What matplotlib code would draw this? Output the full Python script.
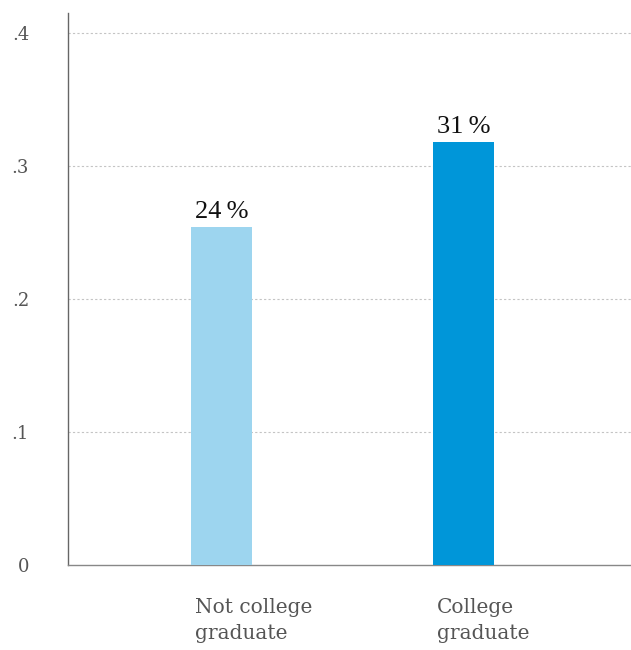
import matplotlib
matplotlib.use("Agg")
import matplotlib.pyplot as plt
from matplotlib.ticker import FixedLocator

# Data
categories = ["Not college\ngraduate", "College\ngraduate"]
values = [0.254, 0.318]
value_labels = ["24\u2009%", "31\u2009%"]
y_ticks = [0, 0.1, 0.2, 0.3, 0.4]
y_tick_labels = ["0", ".1", ".2", ".3", ".4"]
colors = ["#9dd5ef", "#0096d9"]

W, H = 631, 650
fig = plt.figure(figsize=(W / 100, H / 100), dpi=100)
ax = fig.add_axes([68 / W, 85 / H, (W - 68) / W, (565 - 13) / H])

x = list(range(len(categories)))
bar_w = 0.252
ax.bar(x, values, width=bar_w, color=colors, zorder=3)

ax.set_xlim(-0.634, 1.692)
ax.set_ylim(0, 0.415)

# grid
ax.yaxis.set_major_locator(FixedLocator(y_ticks))
ax.set_yticklabels(y_tick_labels, family="DejaVu Serif", fontsize=13, color="#555555")
ax.tick_params(axis="y", length=0, pad=28)
for t in y_ticks[1:]:
    ax.axhline(t, color="#c4c4c4", lw=0.8, ls=(0, (2, 2)), zorder=1)

ax.set_xticks([])
for s in ["top", "right"]:
    ax.spines[s].set_visible(False)
ax.spines["left"].set_color("#666666")
ax.spines["bottom"].set_color("#888888")
ax.spines["left"].set_linewidth(1)
ax.spines["bottom"].set_linewidth(1)

# value labels
for xi, v, lab in zip(x, values, value_labels):
    ax.annotate(lab, (xi, v), xytext=(0, 3), textcoords="offset points",
                ha="center", va="bottom", family="Liberation Serif",
                fontsize=19, color="#111111")

# category labels
for xi, cat in zip(x, categories):
    ax.annotate(cat, (xi - bar_w / 2, 0), xytext=(3, -24), textcoords="offset points",
                ha="left", va="top", family="DejaVu Serif", fontsize=14.5,
                color="#555555", linespacing=1.45, annotation_clip=False)

fig.savefig("out.png", dpi=100)
